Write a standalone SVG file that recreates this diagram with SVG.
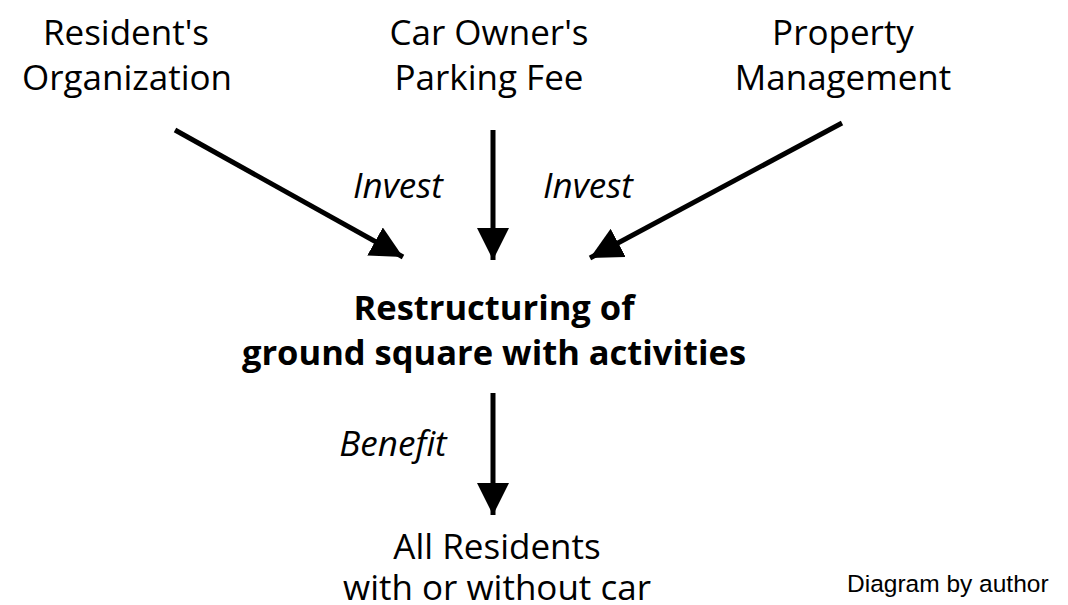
<svg xmlns="http://www.w3.org/2000/svg" width="1068" height="605" viewBox="0 0 1068 605">
<style>
.t{font-family:"Open Sans","Noto Sans",sans-serif;font-size:35px;fill:#000;text-anchor:middle}
.i{font-style:italic}
.b{font-weight:bold;font-size:34.5px}
.c{stroke:#000;stroke-width:5;fill:none}
.note{font-family:"Liberation Sans",Arial,sans-serif;font-size:24.5px;fill:#000}
</style>
<defs>
<marker id="ah" markerUnits="userSpaceOnUse" markerWidth="32" markerHeight="32" refX="30" refY="15" orient="auto" viewBox="0 0 30 30">
<path d="M0,0 L30,15 L0,30 Z" fill="#000"/>
</marker>
</defs>
<rect width="1068" height="605" fill="#fff"/>
<g id="connectors">
<line class="c" x1="175" y1="130" x2="403" y2="257" marker-end="url(#ah)"/>
<line class="c" x1="493" y1="130" x2="493" y2="260" marker-end="url(#ah)"/>
<line class="c" x1="842" y1="123" x2="590" y2="258" marker-end="url(#ah)"/>
<line class="c" x1="493" y1="393" x2="493" y2="515" marker-end="url(#ah)"/>
</g>
<g id="residents-org"><text class="t" x="126" y="45">Resident's</text><text class="t" x="127" y="90">Organization</text></g>
<g id="parking-fee"><text class="t" x="489" y="45">Car Owner's</text><text class="t" x="489" y="90">Parking Fee</text></g>
<g id="property-mgmt"><text class="t" x="843" y="45">Property</text><text class="t" x="843" y="90">Management</text></g>
<g id="labels"><text class="t i" x="398" y="198">Invest</text><text class="t i" x="588" y="198">Invest</text><text class="t i" x="393" y="456">Benefit</text></g>
<g id="restructuring"><text class="t b" x="494" y="320">Restructuring of</text><text class="t b" x="494" y="365">ground square with activities</text></g>
<g id="all-residents"><text class="t" x="497" y="559">All Residents</text><text class="t" x="497" y="600">with or without car</text></g>
<text class="note" x="847" y="592">Diagram by author</text>
</svg>
